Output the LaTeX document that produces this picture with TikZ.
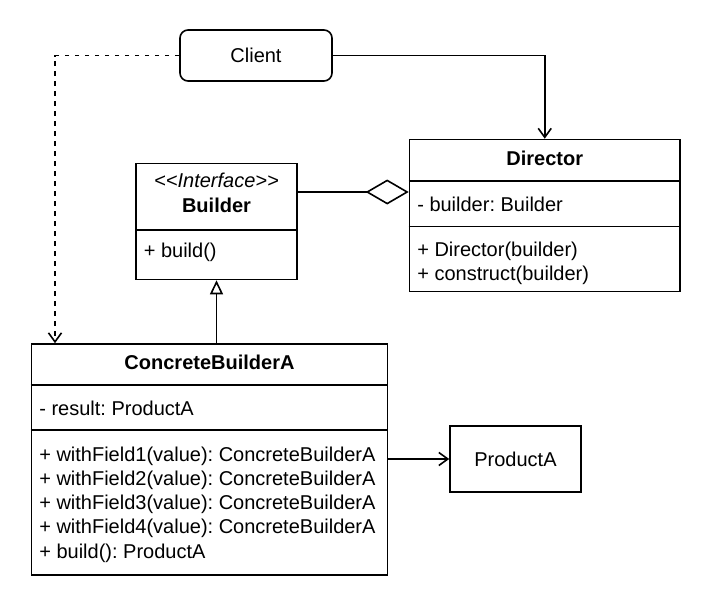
\documentclass[tikz,border=0pt]{standalone}
\usepackage{fontspec}
\setmainfont{Liberation Sans}
\usetikzlibrary{arrows.meta}
\frenchspacing

\begin{document}
\begin{tikzpicture}[x=1pt,y=-1pt,line width=1.6pt,
  font=\fontsize{20}{24}\selectfont,
  box/.style={draw,inner sep=0pt},
  title/.style={anchor=base,inner sep=0pt,font=\fontsize{20}{24}\selectfont\bfseries},
  member/.style={anchor=base west,inner sep=0pt},
  openarrow/.style={-{Straight Barb[length=9pt,width=13pt]}},
  usedash/.style={dash pattern=on 4.5pt off 5.5pt}]

\useasboundingbox (0,0) rectangle (710,600);

% boxes
\node[box,rounded corners=8pt,minimum width=152pt,minimum height=51pt] (client) at (256,55.5) {Client};
\node[box,minimum width=270.5pt,minimum height=152pt] (dir) at (544.75,215.5) {};
\node[box,minimum width=161pt,minimum height=116pt] (bld) at (216.5,221.5) {};
\node[box,minimum width=356pt,minimum height=231pt] (cb) at (209.5,459.5) {};
\node[box,minimum width=131pt,minimum height=66pt] (prod) at (515.5,459) {ProductA};

% Director
\node[title] (dirname) at (544.75,165) {Director};
\draw (dir.west |- 0,181) -- (dir.east |- 0,181);
\node[member] (dirattr) at (416.5,211.5) {- builder: Builder};
\draw (dir.west |- 0,226.5) -- (dir.east |- 0,226.5);
\node[member] (dirop1) at (416.5,256) {+ Director(builder)};
\node[member] (dirop2) at (416.5,280) {+ construct(builder)};

% Builder
\node[anchor=base,inner sep=0pt] (bldtag) at (216.5,187) {\itshape <{}<Interface>{}>};
\node[title] (bldname) at (216.5,212.5) {Builder};
\draw (bld.west |- 0,230) -- (bld.east |- 0,230);
\node[member] (bldop) at (143,257) {+ build()};

% ConcreteBuilderA
\node[title] (cbname) at (209.5,369) {ConcreteBuilderA};
\draw (cb.west |- 0,385) -- (cb.east |- 0,385);
\node[member] (cbattr) at (38.5,415.5) {- result: ProductA};
\draw (cb.west |- 0,430) -- (cb.east |- 0,430);
\foreach \i/\yb in {1/461,2/485.3,3/509.6,4/533.9}
  \node[member] (cbop\i) at (38.5,\yb) {+ withField\i(value): ConcreteBuilderA};
\node[member] (cbop5) at (38.5,558.2) {+ build(): ProductA};

% connectors
\draw[openarrow] (client.east) -| (dir.north);
\draw[openarrow,usedash] (client.west) -| (cb.north -| 55,0);
\draw[-{Diamond[open,length=43pt,width=25pt]}] (bld.east |- 0,192) -- (dir.west |- 0,192);
\draw[-{Triangle[open,length=14pt,width=13pt]}] (cb.north -| bld.south) -- (bld.south);
\draw[openarrow] (cb.east |- prod.west) -- (prod.west);

\end{tikzpicture}
\end{document}
